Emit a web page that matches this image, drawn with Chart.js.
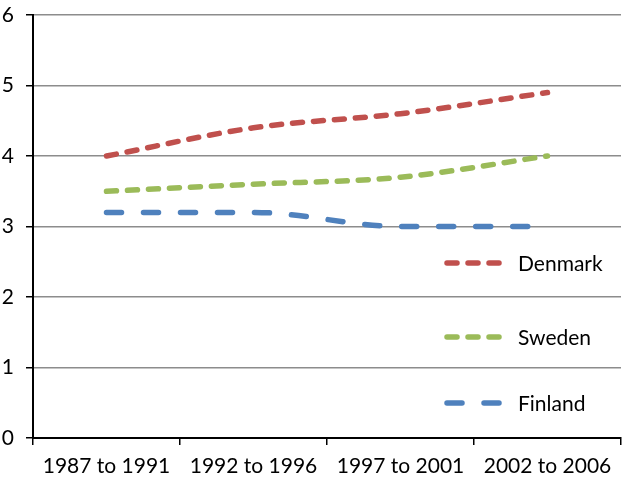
<!DOCTYPE html>
<html>
<head>
<meta charset="utf-8">
<script src="https://cdn.jsdelivr.net/npm/chart.js@4.4.1/dist/chart.umd.min.js"></script>
<style>
  html, body { margin: 0; padding: 0; background: #fff; }
  #wrap { width: 625px; height: 481px; }
</style>
</head>
<body>
<div id="wrap"><canvas id="chart"></canvas></div>
<script>
const categories = ["1987 to 1991", "1992 to 1996", "1997 to 2001", "2002 to 2006"];
const denmark = [4.0, 4.4, 4.6, 4.9];
const sweden = [3.5, 3.6, 3.7, 4.0];
const finland = [3.2, 3.2, 3.0, 3.0];
const yTicks = [0, 1, 2, 3, 4, 5, 6];

const FONT = "Lato, 'Open Sans', sans-serif";

// legend drawn inside the plot area, right side, like the original
const insideLegend = {
    id: "insideLegend",
    afterDatasetsDraw(chart) {
        const ctx = chart.ctx;
        const area = chart.chartArea;
        const offsets = [175, 101, 35];
        ctx.save();
        chart.data.datasets.forEach((ds, i) => {
            const y = area.bottom - offsets[i];
            const x0 = area.right - 174;
            const x1 = area.right - 121;
            ctx.strokeStyle = ds.borderColor;
            ctx.lineWidth = ds.borderWidth;
            ctx.lineCap = "round";
            ctx.setLineDash(ds.borderDash);
            ctx.beginPath();
            ctx.moveTo(x0, y);
            ctx.lineTo(x1, y);
            ctx.stroke();
            ctx.setLineDash([]);
            ctx.fillStyle = "#000";
            ctx.font = "21px " + FONT;
            ctx.textBaseline = "middle";
            ctx.fillText(ds.label, area.right - 103, y + 1);
        });
        ctx.restore();
    }
};

new Chart(document.getElementById("chart"), {
    type: "line",
    data: {
        labels: categories,
        datasets: [
            {
                label: "Denmark",
                data: denmark,
                borderColor: "#C0504D",
                borderWidth: 5.5,
                borderDash: [10, 11],
                borderCapStyle: "round",
            },
            {
                label: "Sweden",
                data: sweden,
                borderColor: "#9BBB59",
                borderWidth: 5.5,
                borderDash: [10, 11],
                borderCapStyle: "round",
            },
            {
                label: "Finland",
                data: finland,
                borderColor: "#4F81BD",
                borderWidth: 5.5,
                borderDash: [15, 22],
                borderCapStyle: "round",
            },
        ],
    },
    options: {
        responsive: true,
        maintainAspectRatio: false,
        animation: false,
        layout: { padding: { top: 15, right: 4, left: 0, bottom: 0 } },
        elements: {
            point: { radius: 0, hoverRadius: 0 },
            line: { cubicInterpolationMode: "monotone", fill: false },
        },
        scales: {
            x: {
                offset: true,
                afterFit: axis => {
                    axis.height = 43;
                    axis.paddingLeft = 0;
                    axis.paddingRight = 0;
                },
                grid: {
                    offset: true,
                    drawOnChartArea: false,
                    drawTicks: true,
                    tickLength: 7,
                    color: "#000",
                    lineWidth: 1.5,
                },
                border: { color: "#000", width: 2 },
                ticks: {
                    color: "#000",
                    padding: 9,
                    maxRotation: 0,
                    font: { family: FONT, size: 21 },
                },
            },
            y: {
                min: 0,
                max: 6,
                afterFit: axis => {
                    axis.width = 33;
                    axis.paddingTop = 0;
                    axis.paddingBottom = 0;
                },
                afterBuildTicks: axis => {
                    axis.ticks = yTicks.map(v => ({ value: v }));
                },
                grid: {
                    color: "#8C8C8C",
                    lineWidth: 1.5,
                    tickLength: 7,
                    tickColor: "#000",
                },
                border: { color: "#000", width: 2 },
                ticks: {
                    color: "#000",
                    padding: 12,
                    font: { family: FONT, size: 21 },
                },
            },
        },
        plugins: {
            legend: { display: false },
            tooltip: { enabled: false },
        },
    },
    plugins: [insideLegend],
});
</script>
</body>
</html>
